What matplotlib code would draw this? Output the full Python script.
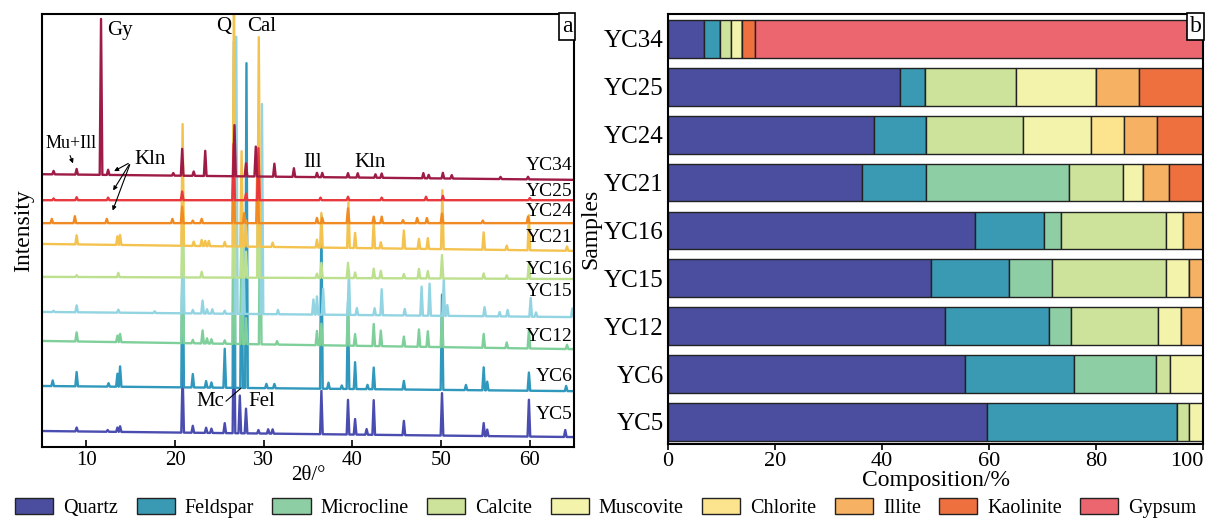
import numpy as np
import matplotlib
matplotlib.use("Agg")
import matplotlib.pyplot as plt
from matplotlib.patches import Patch

plt.rcParams['font.family'] = ['Liberation Serif', 'DejaVu Serif']

# ---------------- panel a: XRD patterns ----------------
samples_xrd = ["YC5", "YC6", "YC12", "YC15", "YC16", "YC21", "YC24", "YC25", "YC34"]
xrd_colors = ["#4A4DAF", "#2F98BC", "#7FCF9B", "#92D4E2", "#BDE08E",
              "#F4C24E", "#F08A22", "#E8383D", "#9E1B45"]

# baseline offset at 2theta = 5 and 2theta = 65 (arbitrary intensity units)
base_left = [3.7, 14.1, 24.5, 31.2, 39.3, 46.9, 51.7, 57.0, 63.0]
base_right = [2.3, 12.9, 22.6, 30.0, 38.8, 45.3, 51.7, 57.0, 61.7]

yc5_pos = [8.9, 12.4, 13.5, 13.8, 20.85, 22.0, 23.5, 24.1, 25.6, 26.64, 27.3, 28.0, 29.4,
           30.5, 31.0, 36.5, 39.5, 40.3, 41.6, 42.4, 45.8, 50.1, 54.8, 55.2, 59.9, 64.0]
yc5_h = [0.9, 0.4, 1.0, 1.3, 14, 1.6, 1.2, 1.0, 2.3, 30, 8.7, 5.7, 0.8,
         1.0, 1.0, 10, 8, 3.6, 1.3, 8, 3.3, 9.8, 3.0, 1.5, 8.5, 1.6]

yc6_pos = [6.2, 8.9, 12.5, 13.5, 13.8, 20.85, 22.0, 23.5, 24.1, 25.6, 26.64, 27.5, 28.05,
           30.3, 31.2, 36.5, 37.3, 38.8, 39.5, 40.3, 41.7, 42.4, 45.8, 50.1, 52.8, 54.8,
           55.2, 59.9, 64.1]
yc6_h = [1.3, 3.3, 0.8, 3.0, 4.7, 38, 3.1, 1.5, 1.2, 9.0, 80, 40, 75,
         1.0, 1.0, 40, 1.4, 0.8, 20, 6.2, 1.0, 5.0, 2.0, 22, 1.2, 5.3,
         2.0, 4.2, 1.2]

yc12_pos = [8.9, 13.5, 13.8, 20.85, 22.0, 23.1, 23.6, 24.1, 25.6, 26.64, 27.5, 28.0, 29.6,
            31.5, 36.0, 36.5, 39.5, 40.3, 42.4, 43.2, 45.8, 47.5, 48.5, 50.1, 54.8, 57.4,
            59.9, 64.2]
yc12_h = [2.1, 1.5, 1.9, 22, 0.8, 3.0, 1.2, 1.0, 0.8, 50, 18, 6, 40,
          0.8, 3.3, 5, 8.5, 2.7, 5.1, 3.6, 2.3, 4.0, 3.6, 7.8, 3.2, 1.3,
          4.3, 1.0]

yc15_pos = [6.3, 8.9, 13.6, 17.7, 20.9, 22.0, 23.1, 23.6, 24.2, 25.6, 26.9, 27.7, 29.8,
            31.6, 35.6, 36.0, 36.7, 39.6, 40.5, 42.5, 43.3, 45.9, 47.8, 48.7, 50.3, 50.7,
            54.9, 56.6, 57.5, 60.1, 60.7, 64.8]
yc15_h = [0.3, 1.6, 0.7, 0.4, 18, 0.8, 3.0, 1.0, 1.0, 0.7, 64, 15, 48.5,
          1.0, 3.5, 4.2, 6, 10.2, 1.6, 1.6, 6.0, 1.5, 6.7, 7.4, 8.5, 2.5,
          2.1, 1.0, 1.5, 4.3, 1.0, 2.0]

yc16_pos = [8.9, 13.6, 20.85, 23.0, 26.64, 27.5, 28.0, 29.4, 36.0, 36.5, 39.5, 40.3, 42.4,
            43.2, 45.8, 47.5, 48.5, 50.1, 54.8, 57.4, 59.9]
yc16_h = [0.4, 1.0, 15, 1.3, 43, 10, 6, 38, 1.0, 3.5, 3.5, 1.3, 2.2,
          1.7, 1.0, 2.2, 1.7, 5.4, 1.2, 0.8, 3.6]

yc21_pos = [8.9, 13.5, 13.8, 20.85, 22.1, 23.0, 23.4, 23.8, 25.6, 26.64, 27.5, 28.0, 29.44,
            31.0, 36.0, 36.5, 39.55, 40.3, 42.4, 43.2, 45.8, 47.5, 48.5, 50.14, 54.8, 57.4,
            59.9, 64.2]
yc21_h = [2.1, 2.0, 2.3, 28.1, 1.0, 1.4, 1.2, 1.2, 1.0, 60, 22, 6, 48.4,
          1.0, 1.8, 8, 10.6, 3.5, 6.3, 1.4, 4.2, 2.3, 2.5, 13.6, 4.0, 1.0,
          8.1, 1.0]

yc24_pos = [6.1, 8.7, 12.3, 19.7, 20.8, 22.0, 23.0, 26.6, 27.8, 29.3, 36.0, 36.6, 39.5,
            42.4, 43.3, 45.7, 47.3, 48.4, 50.1, 54.7, 59.8]
yc24_h = [1.0, 1.6, 1.0, 1.0, 3.8, 0.6, 1.0, 15, 2.3, 15.7, 1.2, 1.2, 3.4,
          1.5, 1.5, 0.7, 1.2, 1.2, 2.2, 0.6, 1.5]

yc25_pos = [6.3, 8.9, 12.45, 20.8, 26.6, 28.0, 29.4, 36.4, 39.5, 43.3, 48.3, 50.2, 60.0]
yc25_h = [0.4, 0.7, 0.6, 2.0, 13, 1.5, 12, 0.6, 0.8, 0.6, 0.8, 1.0, 0.5]

yc34_pos = [6.3, 8.9, 11.65, 12.45, 19.8, 20.8, 22.1, 23.4, 26.7, 28.0, 29.1, 31.2, 33.4,
            36.0, 36.6, 39.5, 40.6, 42.6, 43.3, 48.0, 48.6, 50.2, 51.2, 56.7, 59.8]
yc34_h = [0.8, 1.3, 36.0, 1.2, 0.6, 6.2, 1.0, 5.8, 11.8, 3.0, 6.9, 3.0, 2.0,
          1.0, 1.0, 1.0, 1.0, 0.8, 1.0, 1.2, 0.8, 1.3, 0.8, 0.5, 0.6]

peak_pos = [yc5_pos, yc6_pos, yc12_pos, yc15_pos, yc16_pos, yc21_pos, yc24_pos, yc25_pos, yc34_pos]
peak_h = [yc5_h, yc6_h, yc12_h, yc15_h, yc16_h, yc21_h, yc24_h, yc25_h, yc34_h]

# label heights of the sample names on the right of panel a
label_y = [7.4, 16.2, 25.5, 36.0, 40.9, 48.3, 54.3, 59.0, 64.9]

# ---------------- panel b: composition ----------------
samples = ["YC5", "YC6", "YC12", "YC15", "YC16", "YC21", "YC24", "YC25", "YC34"]
minerals = ["Quartz", "Feldspar", "Microcline", "Calcite", "Muscovite",
            "Chlorite", "Illite", "Kaolinite", "Gypsum"]
quartz = [59.6, 55.5, 51.8, 49.2, 57.4, 36.3, 38.5, 43.4, 6.8]
feldspar = [35.5, 20.3, 19.4, 14.5, 12.9, 12.0, 9.7, 4.6, 3.0]
microcline = [0, 15.5, 4.2, 8.1, 3.2, 26.7, 0, 0, 0]
calcite = [2.2, 2.5, 16.1, 21.3, 19.6, 10.1, 18.1, 17.0, 1.9]
muscovite = [2.7, 6.2, 4.4, 4.2, 3.2, 3.6, 12.8, 15.0, 2.2]
chlorite = [0, 0, 0, 0, 0, 0, 6.2, 0, 0]
illite = [0, 0, 4.1, 2.7, 3.7, 4.9, 6.1, 8.1, 0]
kaolinite = [0, 0, 0, 0, 0, 6.4, 8.6, 11.9, 2.4]
gypsum = [0, 0, 0, 0, 0, 0, 0, 0, 83.7]
mineral_colors = ["#4B4E9F", "#3A9AB4", "#8ECEA5", "#CDE29A", "#F4F3AB",
                  "#FCE38E", "#F6B262", "#EE703F", "#EC6670"]

fig = plt.figure(figsize=(12.12, 5.18), dpi=100)
ax1 = fig.add_axes([0.0347, 0.137, 0.439, 0.836])
ax2 = fig.add_axes([0.5512, 0.1429, 0.4414, 0.830])

w = 0.15
for name, pos, hts, bl, br, col, ly in zip(samples_xrd, peak_pos, peak_h,
                                           base_left, base_right, xrd_colors, label_y):
    order = np.argsort(pos)
    xs = [5.0]
    for i in order:
        p = pos[i]
        xs += [p - w, p, p + w]
    xs.append(65.0)
    xs = np.array(xs)
    ys = np.interp(xs, [5, 65], [bl, br])
    for k, i in enumerate(order):
        ys[2 + 3 * k] += hts[i]
    ax1.plot(xs, ys, color=col, lw=1.7)
    ax1.text(64.8, ly, name, ha='right', va='center', fontsize=14)

ax1.set_xlim(5, 65)
ax1.set_ylim(0, 100)
ax1.set_yticks([])
ax1.set_xticks([10, 20, 30, 40, 50, 60])
ax1.tick_params(axis='x', direction='in', length=5, width=1.2, labelsize=15, pad=3)
for s in ax1.spines.values():
    s.set_linewidth(1.5)
ax1.set_xlabel("2θ/°", fontsize=15, labelpad=-3)
ax1.set_ylabel("Intensity", fontsize=17, labelpad=6)

ax1.text(13.8, 96.3, "Gy", ha='center', va='center', fontsize=15)
ax1.text(25.5, 97.2, "Q", ha='center', va='center', fontsize=15)
ax1.text(29.8, 97.2, "Cal", ha='center', va='center', fontsize=15)
ax1.text(35.5, 65.8, "Ill", ha='center', va='center', fontsize=15)
ax1.text(42.0, 65.8, "Kln", ha='center', va='center', fontsize=15)
ax1.text(17.2, 66.3, "Kln", ha='center', va='center', fontsize=15)
ax1.text(8.3, 70.1, "Mu+Ill", ha='center', va='center', fontsize=13)
ax1.text(23.95, 10.4, "Mc", ha='center', va='center', fontsize=15)
ax1.text(29.8, 10.4, "Fel", ha='center', va='center', fontsize=15)
arrow = dict(arrowstyle='-|>', color='black', lw=0.8, mutation_scale=6)
ax1.annotate("", xy=(8.6, 64.9), xytext=(8.05, 67.9), arrowprops=arrow)
for ty in [63.4, 58.7, 54.0]:
    ax1.annotate("", xy=(12.85, ty), xytext=(15.0, 65.8), arrowprops=arrow)
ax1.plot([25.75, 27.44], [10.6, 13.6], color='black', lw=0.8)
ax1.text(0.997, 0.996, "a", transform=ax1.transAxes, ha='right', va='top', fontsize=17,
         bbox=dict(boxstyle='square,pad=0.12', fc='white', ec='black', lw=1.2))

# stacked bars
comp = [quartz, feldspar, microcline, calcite, muscovite, chlorite, illite, kaolinite, gypsum]
ypos = np.arange(len(samples))
left = np.zeros(len(samples))
for vals, col, lab in zip(comp, mineral_colors, minerals):
    vals = np.array(vals, dtype=float)
    ax2.barh(ypos, vals, left=left, height=0.79, color=col, edgecolor='#222222',
             linewidth=1.0, label=lab)
    left += vals

ax2.set_xlim(0, 100)
ax2.set_ylim(-0.46, 8.52)
ax2.set_yticks(ypos)
ax2.set_yticklabels(samples, fontsize=18)
ax2.set_xticks([0, 20, 40, 60, 80, 100])
ax2.set_xticklabels(["0", "20", "40", "60", "80", "100"], fontsize=16)
ax2.get_xticklabels()[-1].set_horizontalalignment('right')
ax2.tick_params(axis='x', direction='out', length=4, width=1.2, pad=2)
ax2.tick_params(axis='y', length=0, pad=3)
for s in ax2.spines.values():
    s.set_linewidth(1.5)
ax2.set_xlabel("Composition/%", fontsize=17, labelpad=-1)
ax2.set_ylabel("Samples", fontsize=17, labelpad=2)
ax2.text(0.997, 0.996, "b", transform=ax2.transAxes, ha='right', va='top', fontsize=17,
         bbox=dict(boxstyle='square,pad=0.12', fc='white', ec='black', lw=1.2))

handles = [Patch(facecolor=c, edgecolor='#222222', linewidth=1.0, label=m)
           for c, m in zip(mineral_colors, minerals)]
fig.legend(handles=handles, loc='lower center', bbox_to_anchor=(0.5, -0.035), ncol=9,
           frameon=False, fontsize=14.5, handlelength=1.9, handleheight=0.85,
           handletextpad=0.5, columnspacing=0.9)

fig.savefig("out.png", dpi=100)
